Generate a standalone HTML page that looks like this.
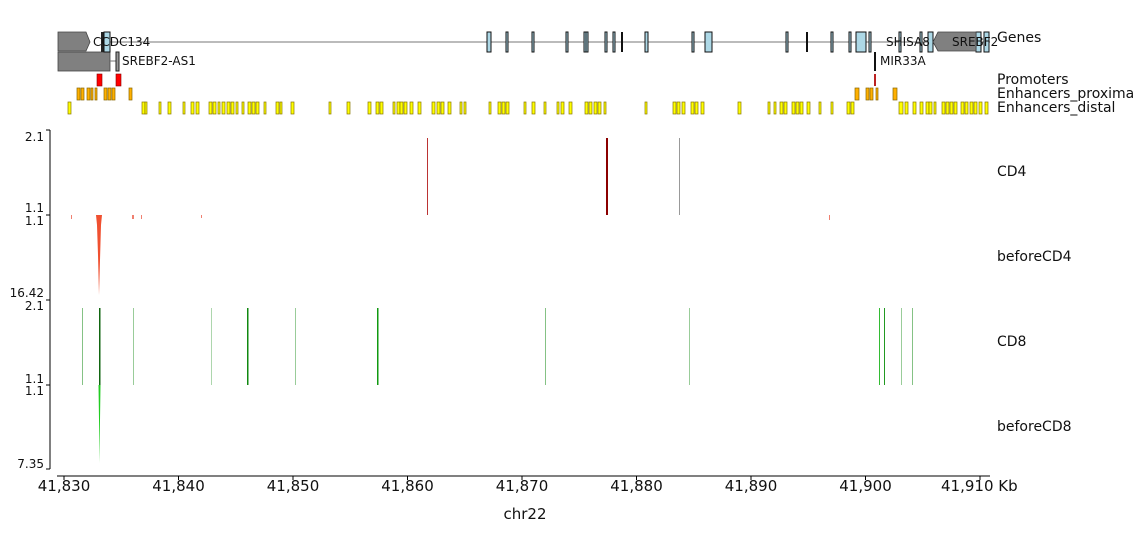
<!DOCTYPE html>
<html><head><style>body{margin:0;background:#fff}</style></head><body>
<svg width="1133" height="539" xmlns="http://www.w3.org/2000/svg" font-family="DejaVu Sans, Liberation Sans, sans-serif">
<rect width="1133" height="539" fill="#fff"/>
<!-- genes -->
<line x1="103" y1="42" x2="990" y2="42" stroke="#777" stroke-width="1"/>
<polygon points="58,32 86,32 90,42 86,51 58,51" fill="#808080" stroke="#444" stroke-width="0.8"/>
<rect x="58" y="52" width="52" height="19" fill="#808080" stroke="#444" stroke-width="0.8"/>
<line x1="110" y1="61" x2="117" y2="61" stroke="#777"/>
<rect x="116" y="52" width="3" height="19" fill="#999" stroke="#222"/>
<rect x="101" y="32" width="3" height="20" fill="#222"/>
<g fill="#add8e6" stroke="#111" stroke-width="1">
<rect x="104" y="32" width="6" height="20"/><rect x="487" y="32" width="4" height="20"/><rect x="506" y="32" width="2" height="20"/>
<rect x="532" y="32" width="2" height="20"/><rect x="566" y="32" width="2" height="20"/><rect x="584" y="32" width="2" height="20"/><rect x="586" y="32" width="2" height="20"/>
<rect x="605" y="32" width="2" height="20"/><rect x="613" y="32" width="2" height="20"/><rect x="645" y="32" width="3" height="20"/>
<rect x="692" y="32" width="2" height="20"/><rect x="705" y="32" width="7" height="20"/><rect x="786" y="32" width="2" height="20"/>
<rect x="831" y="32" width="2" height="20"/><rect x="849" y="32" width="2" height="20"/><rect x="856" y="32" width="10" height="20"/>
<rect x="869" y="32" width="2" height="20"/><rect x="899" y="32" width="2" height="20"/><rect x="920" y="32" width="2" height="20"/>
<rect x="928" y="32" width="5" height="20"/><rect x="976" y="32" width="5" height="20"/><rect x="984" y="32" width="5" height="20"/>
</g>
<rect x="621" y="32" width="2" height="20" fill="#111"/><rect x="806" y="32" width="2" height="20" fill="#111"/>
<polygon points="933,42 938,32 976,32 976,51 938,51" fill="#808080" stroke="#444" stroke-width="0.8"/>
<rect x="874" y="52" width="2" height="19" fill="#111"/>
<g font-size="12" fill="#111">
<text x="93" y="46">CCDC134</text><text x="122" y="65">SREBF2-AS1</text><text x="880" y="65">MIR33A</text>
<text x="886" y="46">SHISA8</text><text x="952" y="46">SREBF2</text>
</g>
<!-- promoters -->
<rect x="97" y="74" width="5" height="12" fill="#f00" stroke="#800" stroke-width="0.6"/>
<rect x="116" y="74" width="5" height="12" fill="#f00" stroke="#800" stroke-width="0.6"/>
<rect x="874" y="74" width="2" height="12" fill="#b22"/>
<!-- proximal -->
<g fill="#ffb000" stroke="#886600" stroke-width="0.7">
<rect x="77" y="88" width="3" height="12"/><rect x="81" y="88" width="3" height="12"/><rect x="87" y="88" width="3" height="12"/><rect x="91" y="88" width="2" height="12"/><rect x="95" y="88" width="2" height="12"/>
<rect x="104" y="88" width="3" height="12"/><rect x="108" y="88" width="3" height="12"/><rect x="112" y="88" width="3" height="12"/><rect x="129" y="88" width="3" height="12"/>
<rect x="855" y="88" width="4" height="12"/><rect x="866" y="88" width="3" height="12"/><rect x="870" y="88" width="3" height="12"/><rect x="876" y="88" width="2" height="12"/><rect x="893" y="88" width="4" height="12"/>
</g>
<!-- distal -->
<g fill="#ffff00" stroke="#887700" stroke-width="0.7">
<rect x="68" y="102" width="3" height="12"/><rect x="142" y="102" width="3" height="12"/><rect x="145" y="102" width="2" height="12"/><rect x="159" y="102" width="2" height="12"/><rect x="168" y="102" width="3" height="12"/><rect x="183" y="102" width="2" height="12"/><rect x="191" y="102" width="3" height="12"/><rect x="196" y="102" width="3" height="12"/><rect x="209" y="102" width="3" height="12"/><rect x="213" y="102" width="3" height="12"/><rect x="218" y="102" width="2" height="12"/><rect x="222" y="102" width="3" height="12"/><rect x="227" y="102" width="3" height="12"/><rect x="231" y="102" width="3" height="12"/><rect x="236" y="102" width="2" height="12"/><rect x="242" y="102" width="2" height="12"/><rect x="248" y="102" width="3" height="12"/><rect x="252" y="102" width="3" height="12"/><rect x="256" y="102" width="3" height="12"/><rect x="264" y="102" width="2" height="12"/><rect x="276" y="102" width="3" height="12"/><rect x="280" y="102" width="2" height="12"/><rect x="291" y="102" width="3" height="12"/><rect x="329" y="102" width="2" height="12"/><rect x="347" y="102" width="3" height="12"/><rect x="368" y="102" width="3" height="12"/><rect x="376" y="102" width="3" height="12"/><rect x="380" y="102" width="3" height="12"/><rect x="393" y="102" width="2" height="12"/><rect x="397" y="102" width="3" height="12"/><rect x="400" y="102" width="3" height="12"/><rect x="404" y="102" width="3" height="12"/><rect x="410" y="102" width="3" height="12"/><rect x="418" y="102" width="3" height="12"/><rect x="432" y="102" width="3" height="12"/><rect x="437" y="102" width="3" height="12"/><rect x="441" y="102" width="3" height="12"/><rect x="448" y="102" width="3" height="12"/><rect x="460" y="102" width="2" height="12"/><rect x="464" y="102" width="2" height="12"/><rect x="489" y="102" width="2" height="12"/><rect x="498" y="102" width="3" height="12"/><rect x="502" y="102" width="3" height="12"/><rect x="506" y="102" width="3" height="12"/><rect x="524" y="102" width="2" height="12"/><rect x="532" y="102" width="3" height="12"/><rect x="544" y="102" width="2" height="12"/><rect x="557" y="102" width="2" height="12"/><rect x="561" y="102" width="3" height="12"/><rect x="569" y="102" width="3" height="12"/><rect x="585" y="102" width="3" height="12"/><rect x="589" y="102" width="3" height="12"/><rect x="594" y="102" width="3" height="12"/><rect x="598" y="102" width="3" height="12"/><rect x="604" y="102" width="2" height="12"/><rect x="645" y="102" width="2" height="12"/><rect x="673" y="102" width="3" height="12"/><rect x="677" y="102" width="3" height="12"/><rect x="682" y="102" width="3" height="12"/><rect x="691" y="102" width="3" height="12"/><rect x="695" y="102" width="3" height="12"/><rect x="701" y="102" width="3" height="12"/><rect x="738" y="102" width="3" height="12"/><rect x="768" y="102" width="2" height="12"/><rect x="774" y="102" width="2" height="12"/><rect x="780" y="102" width="3" height="12"/><rect x="784" y="102" width="3" height="12"/><rect x="792" y="102" width="3" height="12"/><rect x="796" y="102" width="3" height="12"/><rect x="800" y="102" width="3" height="12"/><rect x="807" y="102" width="3" height="12"/><rect x="819" y="102" width="2" height="12"/><rect x="831" y="102" width="2" height="12"/><rect x="847" y="102" width="3" height="12"/><rect x="851" y="102" width="3" height="12"/><rect x="899" y="102" width="4" height="12"/><rect x="905" y="102" width="3" height="12"/><rect x="913" y="102" width="3" height="12"/><rect x="920" y="102" width="3" height="12"/><rect x="926" y="102" width="3" height="12"/><rect x="929" y="102" width="3" height="12"/><rect x="934" y="102" width="2" height="12"/><rect x="942" y="102" width="3" height="12"/><rect x="946" y="102" width="3" height="12"/><rect x="950" y="102" width="3" height="12"/><rect x="954" y="102" width="3" height="12"/><rect x="961" y="102" width="3" height="12"/><rect x="965" y="102" width="3" height="12"/><rect x="970" y="102" width="3" height="12"/><rect x="974" y="102" width="3" height="12"/><rect x="979" y="102" width="3" height="12"/><rect x="985" y="102" width="3" height="12"/>
</g>
<g font-size="14" fill="#111">
<text x="997" y="42">Genes</text><text x="997" y="84">Promoters</text><text x="997" y="98">Enhancers_proxima</text><text x="997" y="112">Enhancers_distal</text>
<text x="997" y="176">CD4</text><text x="997" y="261">beforeCD4</text><text x="997" y="346">CD8</text><text x="997" y="431">beforeCD8</text>
</g>
<!-- left axis -->
<g stroke="#000" stroke-width="1">
<line x1="50" y1="130" x2="50" y2="469"/>
<line x1="46" y1="130" x2="50" y2="130"/><line x1="46" y1="215" x2="50" y2="215"/><line x1="46" y1="300" x2="50" y2="300"/><line x1="46" y1="385" x2="50" y2="385"/><line x1="46" y1="469" x2="50" y2="469"/>
</g>
<g font-size="12" fill="#111" text-anchor="end">
<text x="44" y="141">2.1</text><text x="44" y="212">1.1</text><text x="44" y="225">1.1</text><text x="44" y="297">16.42</text><text x="44" y="310">2.1</text><text x="44" y="383">1.1</text><text x="44" y="395">1.1</text><text x="44" y="468">7.35</text>
</g>
<!-- CD4 -->
<rect x="427" y="138" width="1" height="77" fill="#b33"/>
<rect x="606" y="138" width="2" height="77" fill="#8b0000"/>
<rect x="679" y="138" width="1" height="77" fill="#999"/>
<!-- beforeCD4 -->
<g fill="#f08070"><rect x="71" y="215" width="1" height="4"/><rect x="132" y="215" width="2" height="4"/><rect x="141" y="215" width="1" height="4"/><rect x="201" y="215" width="1" height="3"/><rect x="829" y="215" width="1" height="5"/></g>
<polygon points="96,215 102,215 101,225 100,260 99,295 98,255 97,225" fill="#f05030"/>
<!-- CD8 -->
<g fill="#339933">
<rect x="82" y="308" width="1" height="77" opacity="0.6"/><rect x="99" y="308" width="1.5" height="77" fill="#116611"/><rect x="133" y="308" width="1" height="77" opacity="0.5"/>
<rect x="211" y="308" width="1" height="77" opacity="0.4"/><rect x="247" y="308" width="1.5" height="77" fill="#118811"/><rect x="295" y="308" width="1" height="77" opacity="0.5"/>
<rect x="377" y="308" width="1.5" height="77" fill="#119911"/><rect x="545" y="308" width="1" height="77" opacity="0.6"/><rect x="689" y="308" width="1" height="77" opacity="0.5"/>
<rect x="879" y="308" width="1" height="77" fill="#33bb33"/><rect x="884" y="308" width="1" height="77" fill="#229922"/><rect x="901" y="308" width="1" height="77" opacity="0.5"/><rect x="912" y="308" width="1" height="77" opacity="0.6"/>
</g>
<!-- beforeCD8 -->
<polygon points="98.5,385 100.5,385 100,420 99.5,463 99,420" fill="#22cc22"/>
<!-- x axis -->
<line x1="57" y1="476" x2="990" y2="476" stroke="#000"/>
<g stroke="#000">
<line x1="64" y1="476" x2="64" y2="480"/><line x1="178.5" y1="476" x2="178.5" y2="480"/><line x1="293" y1="476" x2="293" y2="480"/><line x1="407.5" y1="476" x2="407.5" y2="480"/><line x1="522" y1="476" x2="522" y2="480"/><line x1="636.5" y1="476" x2="636.5" y2="480"/><line x1="751" y1="476" x2="751" y2="480"/><line x1="865.5" y1="476" x2="865.5" y2="480"/><line x1="980" y1="476" x2="980" y2="480"/>
</g>
<g font-size="15" fill="#111" text-anchor="middle">
<text x="64" y="491">41,830</text><text x="178.5" y="491">41,840</text><text x="293" y="491">41,850</text><text x="407.5" y="491">41,860</text><text x="522" y="491">41,870</text><text x="636.5" y="491">41,880</text><text x="751" y="491">41,890</text><text x="865.5" y="491">41,900</text>
<text x="525" y="519">chr22</text>
</g>
<text x="941" y="491" font-size="15" fill="#111">41,910 Kb</text>
</svg>
</body></html>
